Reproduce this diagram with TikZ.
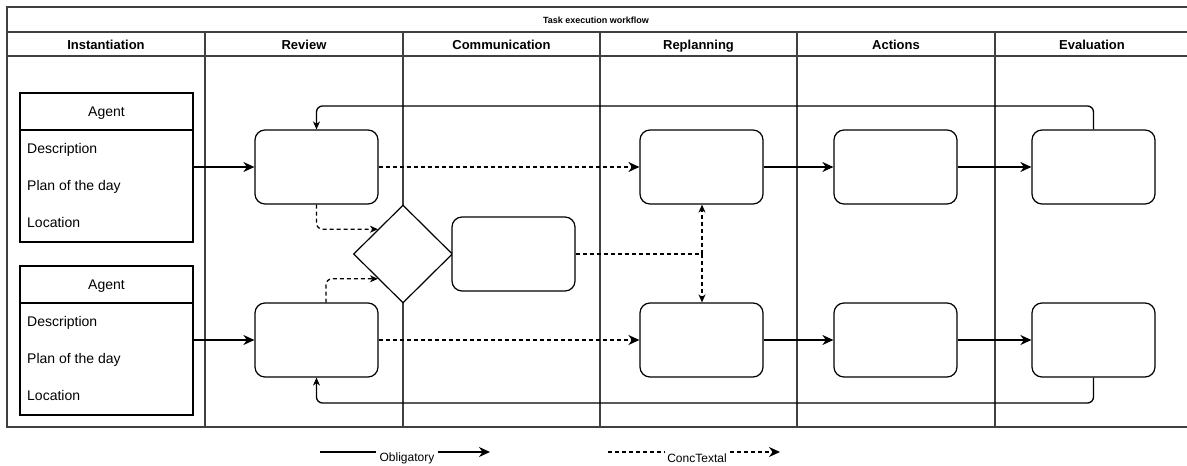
\documentclass[tikz,border=0pt]{standalone}
\usepackage{fontspec}
\setmainfont{Liberation Sans}
\usetikzlibrary{arrows.meta,shapes.geometric,calc}
\begin{document}
\begin{tikzpicture}[x=1pt,y=-1pt,
  lane/.style={line width=1.5pt, draw=black!75},
  box/.style={draw, line width=1.2pt, rounded corners=10pt, minimum width=123pt, minimum height=74pt, inner sep=0pt, fill=white},
  agenthead/.style={draw, line width=1.3pt, minimum width=173pt, minimum height=37pt, inner sep=0pt},
  agentbody/.style={draw, line width=1.3pt, minimum width=173pt, minimum height=112pt, inner sep=0pt},
  field/.style={anchor=base west, inner sep=0pt, font=\fontsize{14}{16}\selectfont},
  lanehead/.style={anchor=base, font=\fontsize{13}{15}\selectfont\bfseries, inner sep=0pt},
  conn/.style={line width=1.3pt, rounded corners=6pt},
  arr/.style={conn, -{Stealth[length=11pt,width=10pt,inset=3.5pt]}},
  arrsmall/.style={conn, -{Stealth[length=8pt,width=7pt,inset=2.5pt]}},
  dsh/.style={dash pattern=on 4pt off 3pt},
  legtxt/.style={inner xsep=3pt, inner ysep=1pt, anchor=base, font=\fontsize{12}{14}\selectfont}
]
\useasboundingbox (0,0) rectangle (1187,466);

% swimlane frame
\draw[lane] (7,7) rectangle (1190,427);
\draw[lane] (7,32) -- (1190,32);
\draw[lane] (7,56) -- (1190,56);
\foreach \x in {205,403,600,797,995} \draw[lane] (\x,32) -- (\x,427);

\node[font=\fontsize{9}{11}\selectfont\bfseries, inner sep=0pt, anchor=base] (title) at (596,23) {Task execution workflow};
\node[lanehead] (h1) at (106,49) {Instantiation};
\node[lanehead] (h2) at (304,49) {Review};
\node[lanehead] (h3) at (501.5,49) {Communication};
\node[lanehead] (h4) at (698.5,49) {Replanning};
\node[lanehead] (h5) at (896,49) {Actions};
\node[lanehead] (h6) at (1092,49) {Evaluation};

% agents
\node[agenthead] (a1h) at (106.5,111.5) {};
\node[field, anchor=base] (a1n) at (106.5,116.5) {Agent};
\node[agentbody] (a1b) at (106.5,186) {};
\node[field] (a1d) at (27,153) {Description};
\node[field] (a1p) at (27,190) {Plan of the day};
\node[field] (a1l) at (27,227) {Location};

\node[agenthead] (a2h) at (106.5,284.5) {};
\node[field, anchor=base] (a2n) at (106.5,289.5) {Agent};
\node[agentbody] (a2b) at (106.5,359) {};
\node[field] (a2d) at (27,326) {Description};
\node[field] (a2p) at (27,363) {Plan of the day};
\node[field] (a2l) at (27,400) {Location};

% boxes
\node[box] (r1) at (316.5,167) {};
\node[box] (r2) at (316.5,340) {};
\node[diamond, draw, line width=1.2pt, fill=white, minimum width=99pt, minimum height=98pt, inner sep=0pt] (d) at (403,254) {};
\node[box] (c) at (513.5,254) {};
\node[box] (p1) at (701.5,167) {};
\node[box] (p2) at (701.5,340) {};
\node[box] (x1) at (895.5,167) {};
\node[box] (x2) at (895.5,340) {};
\node[box] (e1) at (1093.5,167) {};
\node[box] (e2) at (1093.5,340) {};

% obligatory connectors
\draw[arr] (r1.west -| a1b.east) -- (r1.west);
\draw[arr] (r2.west -| a2b.east) -- (r2.west);
\draw[arr] (p1.east) -- (x1.west);
\draw[arr] (x1.east) -- (e1.west);
\draw[arr] (p2.east) -- (x2.west);
\draw[arr] (x2.east) -- (e2.west);
\coordinate (topy) at (0,106);
\coordinate (boty) at (0,403);
\draw[arrsmall] (e1.north) -- (e1.north |- topy) -- (r1.north |- topy) -- (r1.north);
\draw[arrsmall] (e2.south) -- (e2.south |- boty) -- (r2.south |- boty) -- (r2.south);

% contextual connectors
\draw[arr, dsh] (r1.east) -- (p1.west);
\draw[arr, dsh] (r2.east) -- (p2.west);
\coordinate (dul) at ($(d.west)!0.5!(d.north)$);
\coordinate (dll) at ($(d.west)!0.5!(d.south)$);
\coordinate (r2top) at (326,302.5);
\draw[arrsmall, dsh] (r1.south) -- (r1.south |- dul) -- (dul);
\draw[arrsmall, dsh] (r2top) -- (r2top |- dll) -- (dll);
\coordinate (split) at (702,254);
\draw[conn, dsh] (c.east) -- (split);
\draw[arrsmall, dsh] (split) -- (p1.south -| split);
\draw[arrsmall, dsh] (split) -- (p2.north -| split);

% legend
\coordinate (l1a) at (320,452);
\node[legtxt] (l1t) at (407,461) {Obligatory};
\coordinate (l1b) at (490,452);
\draw[conn] (l1a) -- (l1t.west |- l1a);
\draw[arr] (l1t.east |- l1a) -- (l1b);

\coordinate (l2a) at (608,452);
\node[legtxt] (l2t) at (697,462) {ConcTextal};
\coordinate (l2b) at (780,452);
\draw[conn, dsh] (l2a) -- (l2t.west |- l2a);
\draw[arr, dsh] (l2t.east |- l2a) -- (l2b);
\end{tikzpicture}
\end{document}
